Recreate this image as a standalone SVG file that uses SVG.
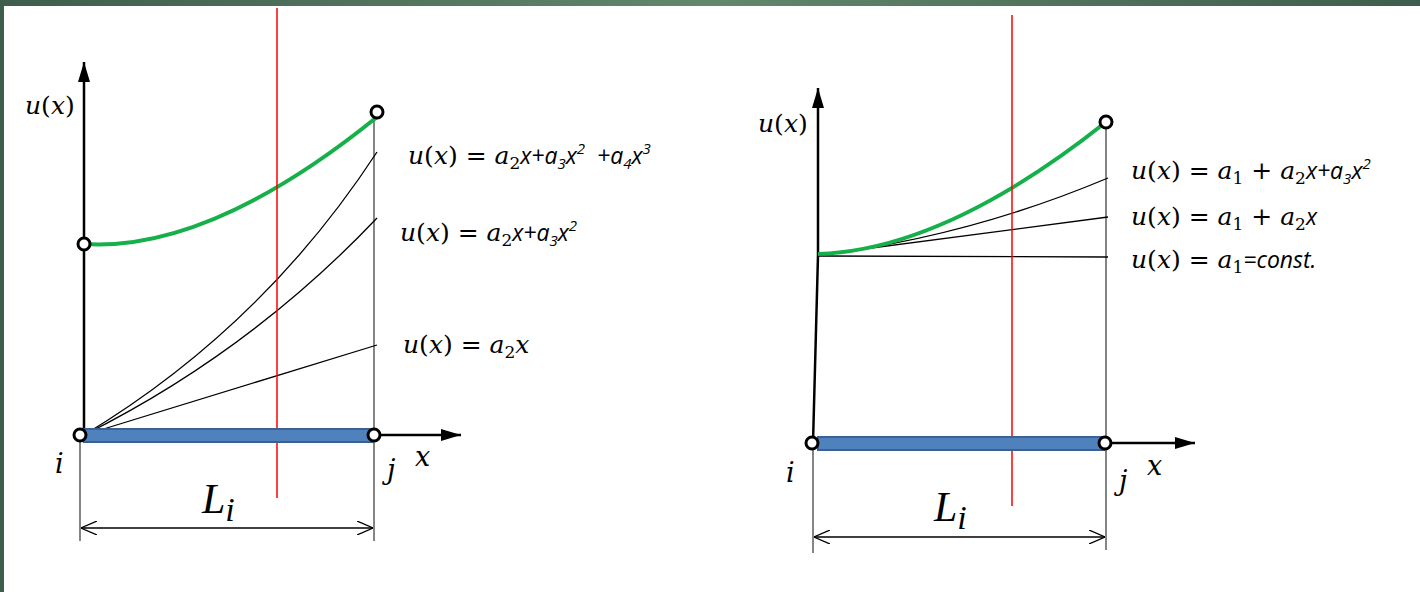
<svg xmlns="http://www.w3.org/2000/svg" width="1420" height="592" viewBox="0 0 1420 592">
<defs>
<linearGradient id="band" x1="0" y1="0" x2="1" y2="0">
<stop offset="0" stop-color="#3f5d4c"/>
<stop offset="0.5" stop-color="#62876b"/>
<stop offset="1" stop-color="#3f5d4c"/>
</linearGradient>
<marker id="ah" viewBox="0 0 20 12" refX="20" refY="6" markerWidth="20" markerHeight="12" markerUnits="userSpaceOnUse" orient="auto">
<path d="M0,0 L20,6 L0,12 Z" fill="#000"/>
</marker>
<marker id="open" viewBox="0 0 16 14" refX="16" refY="7" markerWidth="16" markerHeight="14" markerUnits="userSpaceOnUse" orient="auto-start-reverse">
<path d="M0,0 L16,7 L0,14" fill="none" stroke="#000" stroke-width="1.3"/>
</marker>
</defs>
<style>
.axis{stroke:#000;stroke-width:2.5;fill:none}
.thin{stroke:#000;stroke-width:1.3;fill:none}
.ext{stroke:#333;stroke-width:1.2;fill:none}
.green{stroke:#16b04a;stroke-width:4;fill:none}
.red{stroke:#ff0000;stroke-width:1.5}
.bar{fill:#4f81bd;stroke:#3b6193;stroke-width:2}
.node{fill:#fff;stroke:#000;stroke-width:3}
.m{font-family:"DejaVu Serif","Liberation Serif",serif;font-style:italic;font-size:25px;fill:#000}
.p{font-style:normal}
.s{font-family:"DejaVu Serif","Liberation Serif",serif;font-style:normal;font-size:17px}
.c{font-family:"Open Sans","Liberation Sans",sans-serif;font-style:italic;font-size:23px}
.cs{font-family:"Open Sans","Liberation Sans",sans-serif;font-style:italic;font-size:15px}
.big{font-family:"Liberation Serif",serif;font-style:italic;font-size:42px;fill:#000}
.lbl{font-family:"DejaVu Serif","Liberation Serif",serif;font-style:italic;font-size:27px;fill:#000}
</style>
<rect x="0" y="0" width="1420" height="592" fill="#fff"/>
<rect x="0" y="0" width="1420" height="6" fill="url(#band)"/>
<rect x="0" y="0" width="4" height="592" fill="#3f5d4c"/>

<g id="connectors">
<!-- left -->
<line class="axis" x1="84" y1="435" x2="84" y2="62" marker-end="url(#ah)"/>
<line class="axis" x1="374" y1="435" x2="461" y2="435" marker-end="url(#ah)"/>
<line class="ext" x1="80" y1="440" x2="80" y2="541"/>
<line class="ext" x1="374" y1="112" x2="374" y2="541"/>
<line class="thin" x1="81" y1="528" x2="373" y2="528" marker-start="url(#open)" marker-end="url(#open)"/>
<path class="thin" d="M84,435 L377,345"/>
<path class="thin" d="M84,435 Q250,352 377,218"/>
<path class="thin" d="M84,435 Q262,328 377,152"/>
<path class="green" d="M84,244 Q210,252 377,117"/>
<line class="red" x1="277" y1="8" x2="277" y2="498"/>
<!-- right -->
<path class="axis" d="M813,443 L818,255 L818,88" marker-end="url(#ah)"/>
<line class="axis" x1="1105" y1="443" x2="1195" y2="443" marker-end="url(#ah)"/>
<line class="ext" x1="813" y1="448" x2="813" y2="553"/>
<line class="ext" x1="1106" y1="122" x2="1106" y2="550"/>
<line class="thin" x1="814" y1="537" x2="1105" y2="537" marker-start="url(#open)" marker-end="url(#open)"/>
<path class="thin" d="M818,256 L1108,257"/>
<path class="thin" d="M818,255 L1108,217"/>
<path class="thin" d="M818,255 Q965,238 1108,178"/>
<path class="green" d="M818,254 Q945,250 1106,122"/>
<line class="red" x1="1012" y1="15" x2="1012" y2="506"/>
</g>

<g id="bar-left"><rect class="bar" x="84" y="429" width="288" height="13"/></g>
<g id="bar-right"><rect class="bar" x="818" y="437" width="286" height="13"/></g>

<g id="node-left-i"><circle class="node" cx="80" cy="435" r="6"/></g>
<g id="node-left-j"><circle class="node" cx="374" cy="435" r="6"/></g>
<g id="node-left-a"><circle class="node" cx="84" cy="244" r="6"/></g>
<g id="node-left-b"><circle class="node" cx="377" cy="112" r="6"/></g>
<g id="node-right-i"><circle class="node" cx="812" cy="443" r="6"/></g>
<g id="node-right-j"><circle class="node" cx="1105" cy="443" r="6"/></g>
<g id="node-right-b"><circle class="node" cx="1106" cy="122" r="6"/></g>

<g id="labels-left">
<text class="m" x="25" y="114">u<tspan class="p">(</tspan>x<tspan class="p">)</tspan></text>
<text class="m" x="408" y="164">u<tspan class="p">(</tspan>x<tspan class="p">) = </tspan>a<tspan class="s" dy="5">2</tspan><tspan class="c" dy="-5">x+a</tspan><tspan class="cs" dy="5">3</tspan><tspan class="c" dy="-5">x</tspan><tspan class="cs" dy="-10">2</tspan><tspan class="c" dy="10" xml:space="preserve">  +a</tspan><tspan class="cs" dy="5">4</tspan><tspan class="c" dy="-5">x</tspan><tspan class="cs" dy="-10">3</tspan></text>
<text class="m" x="400" y="241">u<tspan class="p">(</tspan>x<tspan class="p">) = </tspan>a<tspan class="s" dy="5">2</tspan><tspan class="c" dy="-5">x+a</tspan><tspan class="cs" dy="5">3</tspan><tspan class="c" dy="-5">x</tspan><tspan class="cs" dy="-10">2</tspan></text>
<text class="m" x="403" y="353">u<tspan class="p">(</tspan>x<tspan class="p">) = </tspan>a<tspan class="s" dy="5">2</tspan><tspan dy="-5">x</tspan></text>
<text class="lbl" x="55" y="473">i</text>
<text class="lbl" x="387" y="479">j</text>
<text class="lbl" x="415" y="466">x</text>
<text class="big" x="202" y="513">L<tspan font-size="34" dy="8">i</tspan></text>
</g>

<g id="labels-right">
<text class="m" x="758" y="132">u<tspan class="p">(</tspan>x<tspan class="p">)</tspan></text>
<text class="m" x="1131" y="179">u<tspan class="p">(</tspan>x<tspan class="p">) = </tspan>a<tspan class="s" dy="5">1</tspan><tspan class="p" dy="-5"> + </tspan>a<tspan class="s" dy="5">2</tspan><tspan class="c" dy="-5">x+a</tspan><tspan class="cs" dy="5">3</tspan><tspan class="c" dy="-5">x</tspan><tspan class="cs" dy="-10">2</tspan></text>
<text class="m" x="1131" y="225">u<tspan class="p">(</tspan>x<tspan class="p">) = </tspan>a<tspan class="s" dy="5">1</tspan><tspan class="p" dy="-5"> + </tspan>a<tspan class="s" dy="5">2</tspan><tspan class="c" dy="-5">x</tspan></text>
<text class="m" x="1131" y="268">u<tspan class="p">(</tspan>x<tspan class="p">) = </tspan>a<tspan class="s" dy="5">1</tspan><tspan class="c" dy="-5">=const.</tspan></text>
<text class="lbl" x="786" y="482">i</text>
<text class="lbl" x="1119" y="490">j</text>
<text class="lbl" x="1147" y="475">x</text>
<text class="big" x="934" y="521">L<tspan font-size="34" dy="8">i</tspan></text>
</g>
</svg>
